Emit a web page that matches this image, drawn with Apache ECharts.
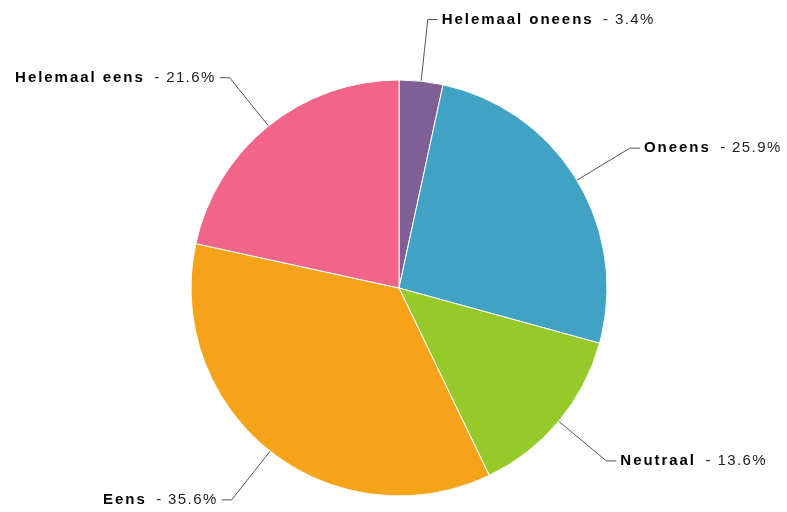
<!DOCTYPE html>
<html><head><meta charset="utf-8">
<script src="https://cdn.jsdelivr.net/npm/echarts@6/dist/echarts.min.js"></script>
<style>html,body{margin:0;padding:0;background:#fff}#c{width:787px;height:512px}</style>
</head><body><div id="c"></div>
<script>
const categories = ['Helemaal oneens', 'Oneens', 'Neutraal', 'Eens', 'Helemaal eens'];
const values = [3.4, 25.9, 13.6, 35.6, 21.6];
const colors = ['#7f5f96', '#40a3c4', '#96c92a', '#f5a41a', '#f06588'];

// mimic the wide letter spacing of the reference labels
(function(){
  const P = CanvasRenderingContext2D.prototype;
  const f = P.fillText, m = P.measureText;
  function sp(ctx){ try{ ctx.letterSpacing = /bold/.test(ctx.font) ? '1.95px' : '1.4px'; }catch(e){} }
  P.fillText = function(){ sp(this); return f.apply(this, arguments); };
  P.measureText = function(){ sp(this); return m.apply(this, arguments); };
})();

const chart = echarts.init(document.getElementById('c'), null, {renderer:'canvas'});
chart.setOption({
  animation:false,
  series:[{
    type:'pie',
    center:[399,288],
    radius:[0,208],
    startAngle:90,
    clockwise:true,
    avoidLabelOverlap:false,
    itemStyle:{borderColor:'#fff',borderWidth:1},
    label:{
      show:true,
      formatter:function(p){ return '{b|'+p.name+'}  {v|- '+p.value.toFixed(1)+'%}'; },
      rich:{
        b:{fontFamily:'Liberation Sans, Arial, sans-serif',fontWeight:'bold',fontSize:15,color:'#000'},
        v:{fontFamily:'Liberation Sans, Arial, sans-serif',fontSize:15,color:'#222'}
      },
      distanceToLabelLine:4
    },
    labelLine:{show:true,length:62,length2:10,lineStyle:{color:'#555',width:1}},
    emphasis:{disabled:true},
    data:categories.map((c,i)=>({name:c,value:values[i],itemStyle:{color:colors[i]}}))
  }]
});
</script></body></html>
